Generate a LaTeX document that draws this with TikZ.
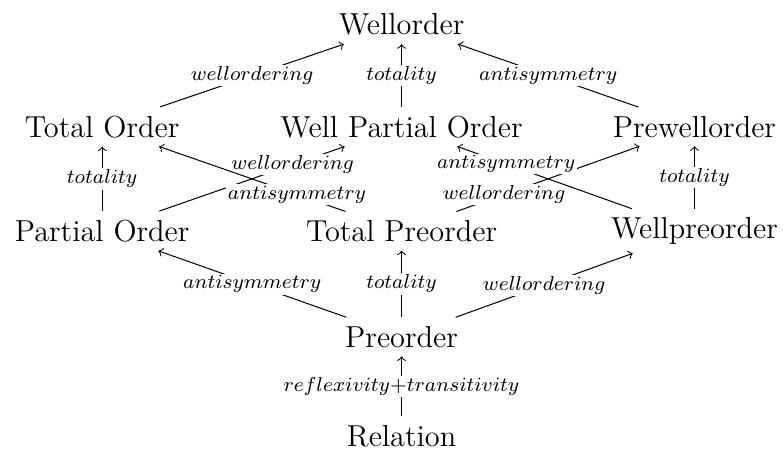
\documentclass[tikz,border=0pt]{standalone}
\begin{document}
\begin{tikzpicture}[order/.style={font=\large,inner sep=3.3pt},
    lbl/.style={font=\footnotesize,fill=white,inner sep=0.7pt}]
    \useasboundingbox (0,0) rectangle (10.88,6.25);
    \node[order] (W) at (5.58,5.91) {Wellorder};
    \node[order] (TO) at (1.42,4.49) {Total Order};
    \node[order] (WPO) at (5.58,4.49) {Well Partial Order};
    \node[order] (PWO) at (9.65,4.49) {Prewellorder};
    \node[order] (PO) at (1.42,3.04) {Partial Order};
    \node[order] (TPO) at (5.58,3.04) {Total Preorder};
    \node[order] (WP) at (9.65,3.04) {Wellpreorder};
    \node[order] (P) at (5.58,1.57) {Preorder};
    \node[order] (R) at (5.58,0.19) {Relation};
    \draw[->] (R) -- node[lbl] {$reflexivity{+}transitivity$} (P);
    \foreach \a/\b/\p/\l in {P/PO/.5/antisymmetry, P/TPO/.5/totality,
      P/WP/.5/wellordering, PO/TO/.5/totality, PO/WPO/.72/wellordering,
      TPO/TO/.26/antisymmetry, TPO/PWO/.26/wellordering,
      WP/WPO/.72/antisymmetry, WP/PWO/.5/totality,
      TO/W/.5/wellordering, WPO/W/.5/totality, PWO/W/.5/antisymmetry} {
     \draw[->] (\a) -- node[lbl,pos=\p] {$\l$} (\b);
    }
\end{tikzpicture}
\end{document}
